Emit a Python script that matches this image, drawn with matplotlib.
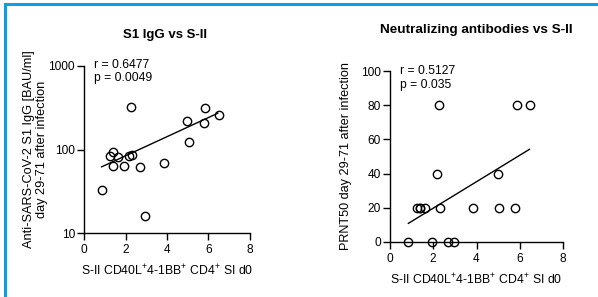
import numpy as np
import matplotlib
matplotlib.use("Agg")
import matplotlib.pyplot as plt
from matplotlib.lines import Line2D

plt.rcParams['font.family'] = ['Liberation Sans', 'DejaVu Sans']
plt.rcParams['mathtext.fontset'] = 'custom'
plt.rcParams['mathtext.rm'] = 'Liberation Sans'
plt.rcParams['mathtext.it'] = 'Liberation Sans'

# S-II CD40L+4-1BB+ CD4+ SI d0 (shared x for both panels)
si_d0 = [0.85, 1.25, 1.38, 1.38, 1.62, 1.92, 2.18, 2.27, 2.33, 2.68, 2.96,
         3.84, 4.98, 5.04, 5.78, 5.85, 6.49]
igg = [33, 83, 94, 63, 81, 63, 84, 320, 87, 61, 16, 68, 221, 122, 208, 311, 261]
prnt50 = [0, 20, 20, 20, 20, 0, 40, 80, 20, 0, 0, 20, 40, 20, 20, 80, 80]

# regression lines (end points)
fit_x = [0.85, 6.45]
fit_igg = [62, 272]
fit_prnt = [10.9, 54.2]

titles = ["S1 IgG vs S-II", "Neutralizing antibodies vs S-II"]
r_txt = ["r = 0.6477", "r = 0.5127"]
p_txt = ["p = 0.0049", "p = 0.035"]
xlab = "S-II CD40L$^{+}$4-1BB$^{+}$ CD4$^{+}$ SI d0"

W, H = 598, 297
fig = plt.figure(figsize=(W / 100, H / 100), dpi=100)

# light blue frame on top and left
fig.add_artist(Line2D([5 / W, 5 / W], [0, 1 - 4 / H], color='#0aa0e6', lw=2.2))
fig.add_artist(Line2D([5 / W, 1], [1 - 4 / H, 1 - 4 / H], color='#0aa0e6', lw=2.2))

def px_axes(x0, x1, ytop, ybot):
    return fig.add_axes([x0 / W, 1 - ybot / H, (x1 - x0) / W, (ybot - ytop) / H])

ax1 = px_axes(84, 250, 66, 233)
ax2 = px_axes(390, 563, 71, 242)

for ax in (ax1, ax2):
    for s in ['top', 'right']:
        ax.spines[s].set_visible(False)
    for s in ['left', 'bottom']:
        ax.spines[s].set_linewidth(1.0)
    ax.tick_params(direction='out', length=5, width=1.0, labelsize=8.6, pad=1.5)
    ax.tick_params(axis='x', pad=3)
    ax.set_xlim(0, 8)
    ax.set_xticks([0, 2, 4, 6, 8])
    ax.set_xlabel(xlab, fontsize=8.8, labelpad=5)
    ax.patch.set_alpha(0)

# left panel: log y
ax1.set_yscale('log')
ax1.set_ylim(10, 1000)
ax1.set_yticks([10, 100, 1000])
ax1.set_yticklabels(['10', '100', '1000'])
ax1.yaxis.set_minor_locator(matplotlib.ticker.NullLocator())
ax1.plot(si_d0, igg, 'o', mfc='none', mec='black', ms=6, mew=1.0, clip_on=False)
ax1.plot(fit_x, fit_igg, color='black', lw=1.0)
ax1.set_ylabel("Anti-SARS-CoV-2 S1 IgG [BAU/ml]\nday 29-71 after infection",
               fontsize=9.2, linespacing=1.15)
ax1.yaxis.set_label_coords(-0.217, 0.5)
ax1.text(0.06, 1.006, r_txt[0], transform=ax1.transAxes, fontsize=8.7,
         va='center', ha='left')
ax1.text(0.06, 0.928, p_txt[0], transform=ax1.transAxes, fontsize=8.7,
         va='center', ha='left')
ax1.set_title(titles[0], fontsize=9.5, fontweight='bold', pad=20, x=0.488)

# right panel: linear y
ax2.set_ylim(0, 100)
ax2.set_yticks([0, 20, 40, 60, 80, 100])
ax2.plot(si_d0, prnt50, 'o', mfc='none', mec='black', ms=6, mew=1.0, clip_on=False)
ax2.plot(fit_x, fit_prnt, color='black', lw=1.0)
ax2.set_ylabel("PRNT50 day 29-71 after infection", fontsize=9.1)
ax2.yaxis.set_label_coords(-0.22, 0.503)
ax2.text(0.058, 1.0, r_txt[1], transform=ax2.transAxes, fontsize=8.7,
         va='center', ha='left')
ax2.text(0.058, 0.916, p_txt[1], transform=ax2.transAxes, fontsize=8.7,
         va='center', ha='left')
ax2.set_title(titles[1], fontsize=9.7, fontweight='bold', pad=27, x=0.497)

fig.savefig("out.png", dpi=100)
